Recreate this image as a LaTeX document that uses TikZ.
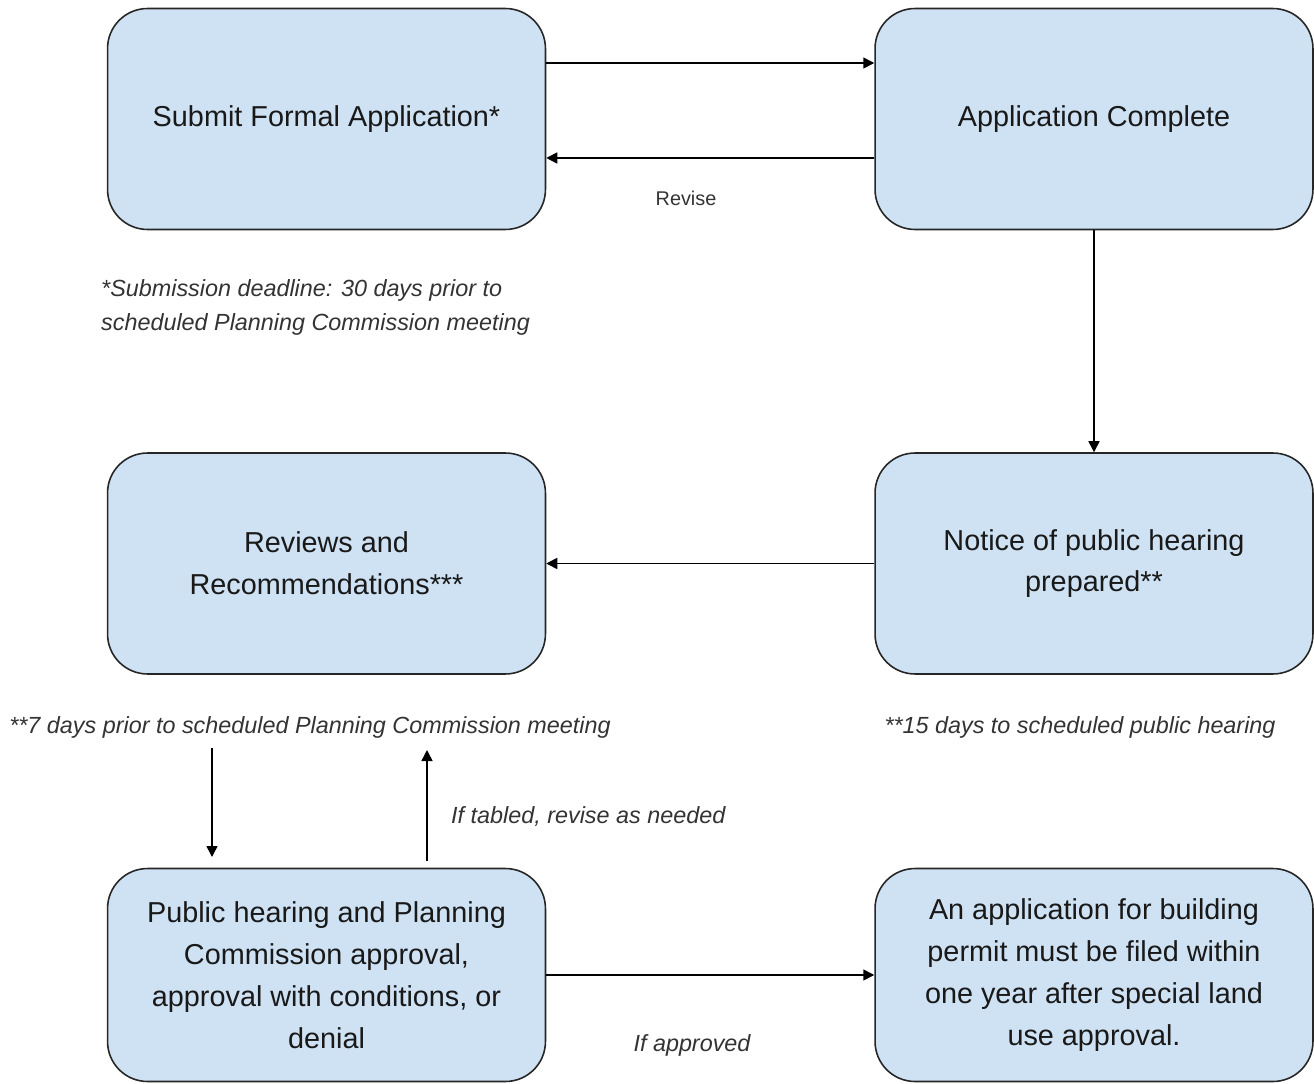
\documentclass[tikz,border=0pt]{standalone}
\usepackage{fontspec}
\setmainfont{Liberation Sans}
\usetikzlibrary{calc,positioning,arrows.meta}
\definecolor{boxblue}{HTML}{CFE2F3}

\begin{document}
\begin{tikzpicture}[x=0.02cm, y=-0.02cm,
      stepbox/.style={rounded corners=0.8cm, draw=black!85, line width=0.9pt, fill=boxblue, minimum width=8.76cm, minimum height=4.42cm, align=center, text=black!90, font=\fontsize{16.4}{23.8}\selectfont},
      note/.style={text=black!80, font=\fontsize{13.3}{19.8}\selectfont\itshape},
      small/.style={text=black!80, font=\fontsize{11.3}{14}\selectfont},
      arr/.style={-{Triangle[length=2.2mm, width=2.2mm]}, line width=0.9pt}
    ]
    \useasboundingbox (0,0) rectangle (1314,1084);

    % Row 1
    \node[stepbox] (submit)   at (326.5,119) {Submit Formal Application*};
    \node[stepbox] (complete) at (1094,119)  {Application Complete};

    % Row 2
    \node[stepbox] (reviews) at (326.5,563.5) {Reviews and\\Recommendations***};
    \node[stepbox] (notice)  at (1094,563.5)  {Notice of public hearing\\prepared**};

    % Row 3 (cut off at the bottom edge)
    \node[stepbox, minimum height=4.26cm] (hearing) at (326.5,975) {Public hearing and Planning\\Commission approval,\\approval with conditions, or\\denial};
    \node[stepbox, minimum height=4.26cm] (permit)  at (1094,975)  {An application for building\\permit must be filed within\\one year after special land\\use approval.};

    % Notes
    \node[note, anchor=west, align=left] (deadline) at (95,307.5) {*Submission deadline: 30 days prior to\\scheduled Planning Commission meeting};
    \node[note] (sevendays) at (310,727)  {**7 days prior to scheduled Planning Commission meeting};
    \node[note] (fifteen)   at (1080,727) {**15 days to scheduled public hearing};

    % Free ends of the two short arrows
    \coordinate (downtop) at (212,748);
    \coordinate (downbot) at (212,857);
    \coordinate (uptop)   at (427,750);
    \coordinate (upbot)   at (427,861);

    % Arrows
    \draw[arr] ([yshift=1.12cm]submit.east) -- ([yshift=1.12cm]complete.west);
    \draw[arr] ([yshift=-0.78cm]complete.west) -- ([yshift=-0.78cm]submit.east);
    \draw[arr] (complete.south) -- (notice.north);
    \draw[arr] (notice.west) -- (reviews.east);
    \draw[arr] (downtop) -- (downbot);
    \draw[arr] (upbot) -- (uptop);
    \draw[arr] (hearing.east) -- (permit.west);

    % Arrow labels
    \node[small] (revise) at (686,198) {Revise};
    \node[note, anchor=west] (tabled) at (445,817) {If tabled, revise as needed};
    \node[note] (approved) at (692,1045) {If approved};
  \end{tikzpicture}
\end{document}
